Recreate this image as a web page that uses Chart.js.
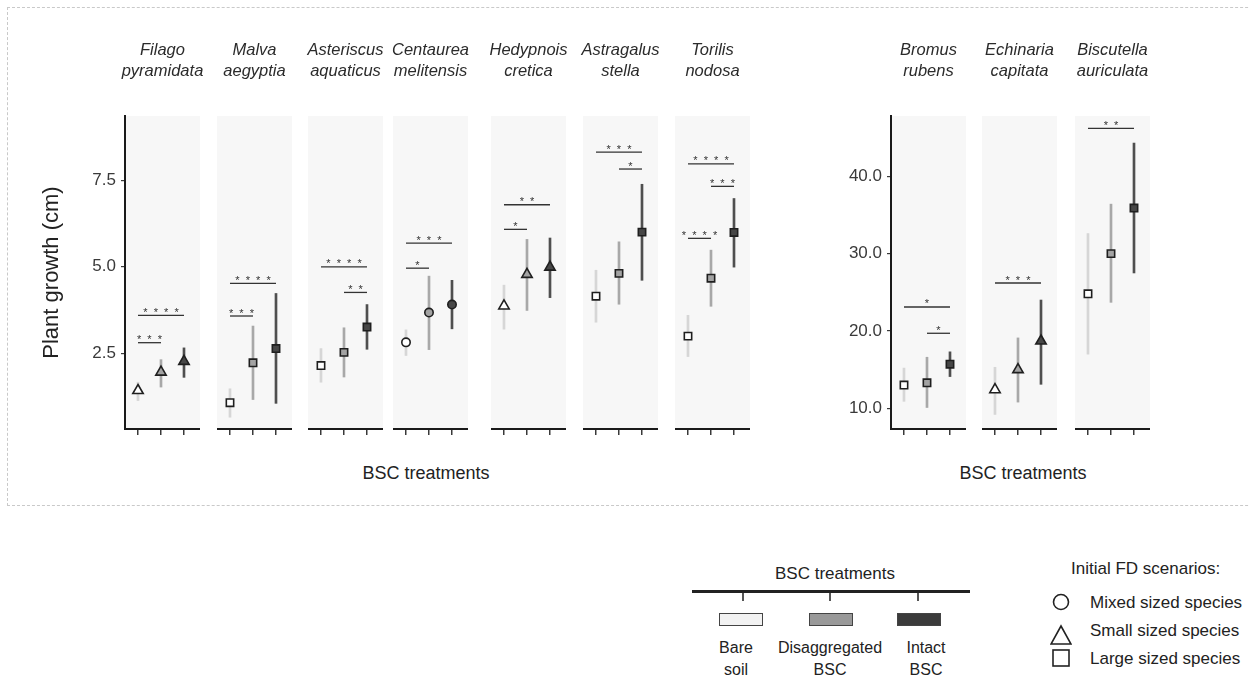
<!DOCTYPE html>
<html>
<head>
<meta charset="utf-8">
<script src="https://cdn.jsdelivr.net/npm/chart.js@4.4.1/dist/chart.umd.min.js"></script>
<style>
  body { margin: 0; width: 1250px; height: 682px; overflow: hidden; background: #fff;
         font-family: "Liberation Sans", Arial, sans-serif; color: #222; }
  #fig { position: relative; width: 1250px; height: 682px; overflow: hidden; }
  #fig canvas { position: absolute; }
  .frame { position: absolute; left: 7px; top: 7px; width: 1300px; height: 497px;
           border: 1px dashed #c9c9c9; border-right: none; }
  .txt { position: absolute; white-space: nowrap; line-height: 1; }
  .mid { transform: translate(-50%, -50%); text-align: center; }
  .lft { transform: translate(0, -50%); }
  .facet { position: absolute; transform: translateX(-50%); text-align: center; white-space: nowrap;
           font-style: italic; font-size: 16.5px; line-height: 21px; color: #2b2b2b; }
</style>
</head>
<body>
<div id="fig"><div class="frame"></div></div>
<script>
// Datos
const species = [
  ['Filago', 'pyramidata'], ['Malva', 'aegyptia'], ['Asteriscus', 'aquaticus'],
  ['Centaurea', 'melitensis'], ['Hedypnois', 'cretica'], ['Astragalus', 'stella'],
  ['Torilis', 'nodosa'], ['Bromus', 'rubens'], ['Echinaria', 'capitata'],
  ['Biscutella', 'auriculata']
];
const fdScenario = ['small', 'large', 'large', 'mixed', 'small', 'large', 'large', 'large', 'small', 'large'];
const panelGroup = [0, 0, 0, 0, 0, 0, 0, 1, 1, 1];
const treatments = [['Bare', 'soil'], ['Disaggregated', 'BSC'], ['Intact', 'BSC']];
const fdLabels = ['Mixed sized species', 'Small sized species', 'Large sized species'];

const growthMean = [
  [1.43, 1.96, 2.27], [1.08, 2.23, 2.64], [2.15, 2.53, 3.26], [2.82, 3.68, 3.91],
  [3.87, 4.78, 4.99], [4.15, 4.81, 6.00], [3.00, 4.67, 5.99],
  [13.0, 13.3, 15.7], [12.4, 15.0, 18.7], [24.8, 30.0, 35.9]
];
const growthLow = [
  [1.14, 1.53, 1.81], [0.66, 1.17, 1.06], [1.67, 1.82, 2.62], [2.44, 2.61, 3.21],
  [3.20, 3.74, 4.11], [3.40, 3.92, 4.61], [2.41, 3.86, 4.99],
  [10.9, 10.1, 14.1], [9.2, 10.8, 13.1], [17.0, 23.7, 27.5]
];
const growthHigh = [
  [1.67, 2.32, 2.66], [1.48, 3.29, 4.23], [2.64, 3.24, 3.91], [3.18, 4.73, 4.61],
  [4.47, 5.79, 5.83], [4.90, 5.72, 7.38], [3.60, 5.48, 6.97],
  [15.2, 16.6, 17.3], [15.3, 19.1, 24.0], [32.6, 36.4, 44.3]
];
// [desde, hasta, altura, nº de asteriscos]
const sigBrackets = [
  [[0, 1, 2.81, 3], [0, 2, 3.60, 4]],
  [[0, 1, 3.58, 3], [0, 2, 4.52, 4]],
  [[0, 2, 5.00, 4], [1, 2, 4.26, 2]],
  [[0, 1, 4.96, 1], [0, 2, 5.68, 3]],
  [[0, 1, 6.08, 1], [0, 2, 6.79, 2]],
  [[0, 2, 8.31, 3], [1, 2, 7.82, 1]],
  [[0, 1, 5.82, 4], [0, 2, 7.97, 4], [1, 2, 7.32, 3]],
  [[0, 2, 23.1, 1], [1, 2, 19.7, 1]],
  [[0, 2, 26.2, 3]],
  [[0, 2, 46.2, 2]]
];
const yTicks = [[2.5, 5.0, 7.5], [10, 20, 30, 40]];
const yRange = [[0.32, 9.35], [7.32, 47.8]];

// Maquetación y estilos
const panelLeft = [125, 217, 308, 393, 491, 583, 675, 891, 982, 1075];
const PANEL_W = 75, CANVAS_TOP = 31, CANVAS_H = 410, AREA_TOP = 85;
const axisW = [90, 60];
const shapeStyle = { mixed: ['circle', 4.2], small: ['triangle', 6], large: ['rect', 5.2] };
const barColors = ['#d6d6d6', '#a8a8a8', '#4f4f4f'];
const fillColors = ['#ffffff', '#a3a3a3', '#474747'];

Chart.defaults.font.family = '"Liberation Sans", Arial, sans-serif';
Chart.defaults.color = '#333';

const panelBg = {
  id: 'panelBg',
  beforeDraw(chart) {
    const a = chart.chartArea, c = chart.ctx;
    c.save();
    c.fillStyle = '#f7f7f7';
    c.fillRect(a.left, a.top, a.right - a.left, a.bottom - a.top);
    c.restore();
  }
};

const sigPlugin = {
  id: 'sig',
  afterDatasetsDraw(chart, args, opts) {
    const xs = chart.scales.x, ys = chart.scales.y, c = chart.ctx;
    c.save();
    c.strokeStyle = '#333';
    c.fillStyle = '#333';
    c.lineWidth = 1.3;
    c.font = '11px "Liberation Sans", Arial, sans-serif';
    c.textAlign = 'center';
    c.textBaseline = 'alphabetic';
    (opts.brackets || []).forEach(([a, b, yv, n]) => {
      const x1 = xs.getPixelForValue(a), x2 = xs.getPixelForValue(b);
      const y = ys.getPixelForValue(yv);
      c.beginPath();
      c.moveTo(x1, y);
      c.lineTo(x2, y);
      c.stroke();
      c.fillText(Array(n).fill('*').join('  '), (x1 + x2) / 2, y + 0.5);
    });
    c.restore();
  }
};

const fig = document.getElementById('fig');

panelLeft.forEach((left, i) => {
  const g = panelGroup[i];
  const first = i === 0 || panelGroup[i - 1] !== g;
  const yw = first ? axisW[g] : 0;
  const cv = document.createElement('canvas');
  cv.width = PANEL_W + yw;
  cv.height = CANVAS_H;
  cv.style.left = (left - yw) + 'px';
  cv.style.top = CANVAS_TOP + 'px';
  fig.appendChild(cv);

  // título de la faceta
  const t = document.createElement('div');
  t.className = 'facet';
  t.style.left = (left + PANEL_W / 2) + 'px';
  t.style.top = (CANVAS_TOP + 8) + 'px';
  t.innerHTML = species[i].join('<br>');
  fig.appendChild(t);

  const [style, radius] = shapeStyle[fdScenario[i]];
  new Chart(cv, {
    type: 'scatter',
    data: {
      datasets: [
        {
          type: 'bar',
          data: [0, 1, 2].map(k => ({ x: k, y: [growthLow[i][k], growthHigh[i][k]] })),
          backgroundColor: barColors,
          borderWidth: 0,
          barThickness: 2,
          grouped: false,
          order: 2
        },
        {
          type: 'scatter',
          data: [0, 1, 2].map(k => ({ x: k, y: growthMean[i][k] })),
          pointStyle: style,
          pointRadius: radius,
          pointBackgroundColor: fillColors,
          pointBorderColor: '#1f1f1f',
          pointBorderWidth: 1.6,
          order: 1
        }
      ]
    },
    options: {
      responsive: false,
      animation: false,
      devicePixelRatio: 1,
      layout: { padding: { top: AREA_TOP, left: 0, right: 0, bottom: 0 }, autoPadding: false },
      plugins: {
        legend: { display: false },
        tooltip: { enabled: false },
        title: { display: false },
        sig: { brackets: sigBrackets[i] }
      },
      scales: {
        x: {
          type: 'linear',
          min: -0.565,
          max: 2.696,
          offset: false,
          afterBuildTicks: s => { s.ticks = [0, 1, 2].map(v => ({ value: v })); },
          afterFit: s => { s.height = 12; s.paddingLeft = 0; s.paddingRight = 0; },
          ticks: { display: false },
          grid: { offset: false, drawOnChartArea: false, drawTicks: true, tickLength: 6, color: '#3a3a3a', lineWidth: 1.5 },
          border: { display: true, color: '#1a1a1a', width: 2 }
        },
        y: {
          type: 'linear',
          display: first,
          min: yRange[g][0],
          max: yRange[g][1],
          afterBuildTicks: s => { s.ticks = yTicks[g].map(v => ({ value: v })); },
          afterFit: s => { s.width = yw; s.paddingTop = 0; s.paddingBottom = 0; },
          ticks: { callback: v => v.toFixed(1), font: { size: 17 }, color: '#3a3a3a', padding: 5 },
          grid: { drawOnChartArea: false, drawTicks: true, tickLength: 4, color: '#3a3a3a', lineWidth: 1.2 },
          border: { display: true, color: '#1a1a1a', width: 2 },
          title: {
            display: g === 0,
            text: 'Plant growth (cm)',
            font: { size: 22 },
            color: '#222',
            padding: { top: 4, bottom: 0 }
          }
        }
      }
    },
    plugins: [panelBg, sigPlugin]
  });
});

// Textos y leyendas
function addText(str, x, y, size, cls) {
  const d = document.createElement('div');
  d.className = 'txt ' + cls;
  d.style.left = x + 'px';
  d.style.top = y + 'px';
  d.style.fontSize = size + 'px';
  d.textContent = str;
  fig.appendChild(d);
  return d;
}
function addBox(x, y, w, h, bg, border) {
  const d = document.createElement('div');
  d.style.cssText = `position:absolute;left:${x}px;top:${y}px;width:${w}px;height:${h}px;background:${bg};` +
    (border ? `border:1px solid ${border};box-sizing:border-box;` : '');
  fig.appendChild(d);
}

addText('BSC treatments', 426, 473, 18, 'mid');
addText('BSC treatments', 1023, 473, 18, 'mid');

// Leyenda de tratamientos
addText('BSC treatments', 835, 573, 17, 'mid');
addBox(692, 590, 278, 3, '#222');
const legTickX = [743, 830, 918];
const legBoxX = [719, 809, 897];
const legBoxFill = ['#f2f2f2', '#999999', '#3b3b3b'];
const legLabelX = [736, 830, 926];
treatments.forEach((t, k) => {
  addBox(legTickX[k] - 1, 593, 2, 8, '#555');
  addBox(legBoxX[k], 613, 44, 13, legBoxFill[k], '#444');
  addText(t[0], legLabelX[k], 648, 16, 'mid');
  addText(t[1], legLabelX[k], 670, 16, 'mid');
});

// Leyenda de escenarios FD
addText('Initial FD scenarios:', 1071, 568, 17, 'lft');
const fdSymbols = [
  '<circle cx="11" cy="11" r="7.5" fill="none" stroke="#222" stroke-width="1.6"/>',
  '<polygon points="1,20 21,20 11,2" fill="none" stroke="#222" stroke-width="1.6"/>',
  '<rect x="3" y="3" width="16" height="16" fill="none" stroke="#222" stroke-width="1.6"/>'
];
const fdSymY = [602, 635, 658];
const fdTextY = [602, 630, 658];
fdLabels.forEach((lab, k) => {
  const s = document.createElement('div');
  s.style.cssText = `position:absolute;left:1050px;top:${fdSymY[k] - 11}px;width:22px;height:22px;`;
  s.innerHTML = `<svg width="22" height="22" xmlns="http://www.w3.org/2000/svg">${fdSymbols[k]}</svg>`;
  fig.appendChild(s);
  addText(lab, 1090, fdTextY[k], 17, 'lft');
});
</script>
</body>
</html>
